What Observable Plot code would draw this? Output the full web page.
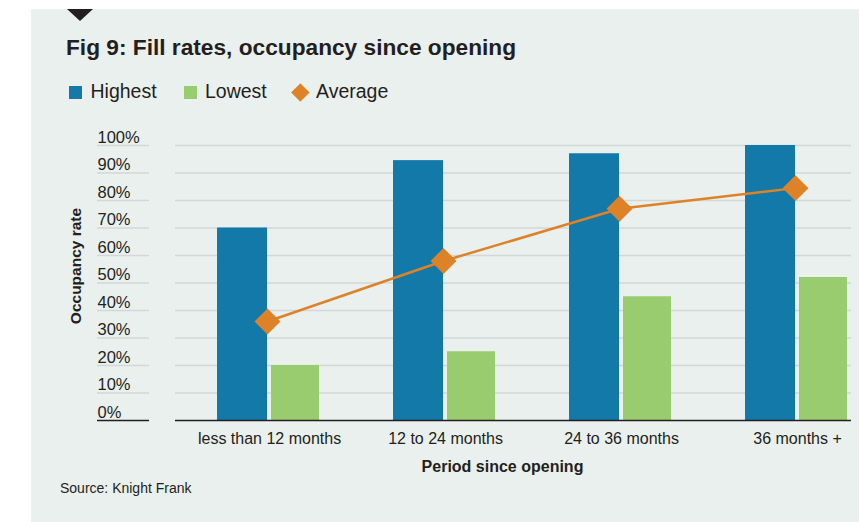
<!DOCTYPE html>
<html><head><meta charset="utf-8">
<script src="https://cdn.jsdelivr.net/npm/d3@7"></script>
<script src="https://cdn.jsdelivr.net/npm/@observablehq/plot@0.6"></script>
<style>
body{margin:0;background:#fff;width:859px;height:522px;position:relative;overflow:hidden;font-family:"Liberation Sans",Arial,sans-serif;color:#231f20;}
#panel{position:absolute;left:31px;top:9px;width:828px;height:513px;background:#eaf0ee;}
#tri{position:absolute;left:67px;top:9px;width:0;height:0;border-left:13px solid transparent;border-right:13px solid transparent;border-top:12px solid #231f20;}
.t{position:absolute;line-height:1;white-space:nowrap;}
#title{left:66px;top:36px;font-weight:bold;font-size:22.7px;}
.lg{top:81.5px;font-size:19.5px;}
.sw{position:absolute;top:86px;width:13px;height:13px;}
.dia{position:absolute;left:293.6px;top:85.6px;width:12.7px;height:12.7px;background:#dd8227;transform:rotate(45deg);}
#src{left:60px;top:481px;font-size:14px;}
#chart{position:absolute;left:0;top:110px;}
</style></head>
<body>
<div id="panel"></div>
<div id="tri"></div>
<div id="title" class="t">Fig 9: Fill rates, occupancy since opening</div>
<div class="sw" style="left:69px;background:#1379a9"></div>
<div class="t lg" style="left:90.5px">Highest</div>
<div class="sw" style="left:184px;background:#99cc6f"></div>
<div class="t lg" style="left:205px">Lowest</div>
<div class="dia"></div>
<div class="t lg" style="left:316px">Average</div>
<div id="chart"></div>
<div id="src" class="t">Source: Knight Frank</div>
<script>
const categories = ["less than 12 months", "12 to 24 months", "24 to 36 months", "36 months +"];
const highest = [0.70, 0.945, 0.97, 1.00];
const lowest = [0.20, 0.25, 0.45, 0.52];
const average = [0.36, 0.58, 0.77, 0.845];
const yTicks = [0, 0.1, 0.2, 0.3, 0.4, 0.5, 0.6, 0.7, 0.8, 0.9, 1.0];
const xTitle = "Period since opening";
const yTitle = "Occupancy rate";

const blue = "#1379a9", green = "#99cc6f", orange = "#dd8227", grid = "#d3d8d6", ink = "#231f20";
const data = categories.map((c, i) => ({cat: c, high: highest[i], low: lowest[i], avg: average[i]}));

const plot = Plot.plot({
  width: 859, height: 380,
  marginTop: 35, marginBottom: 70, marginLeft: 175, marginRight: 8,
  style: {background: "transparent", fontFamily: "Liberation Sans, Arial, sans-serif", color: ink},
  x: {type: "band", domain: categories, paddingInner: 0.409, paddingOuter: 0.125, align: 0.955, round: false},
  y: {domain: [0, 1]},
  marks: [
    Plot.ruleY(yTicks.slice(1), {stroke: grid, strokeWidth: 1.5}),
    Plot.axisY({ticks: yTicks.slice(1), fill: "none", stroke: grid, strokeWidth: 1.5, tickSize: 52, dx: -26, label: null}),
    Plot.axisY({ticks: yTicks, tickSize: 0, tickPadding: 78, textAnchor: "start", lineAnchor: "bottom", dy: -3,
      tickFormat: d3.format(".0%"), fontSize: 16.5, fill: ink, label: null}),
    Plot.barY(data, {x: "cat", y: "high", fill: blue, insetRight: 54}),
    Plot.barY(data, {x: "cat", y: "low", fill: green, insetLeft: 54, insetRight: 2}),
    Plot.ruleY([0], {stroke: ink, strokeWidth: 1.5}),
    Plot.axisY({ticks: [0], fill: "none", stroke: ink, strokeWidth: 1.5, tickSize: 52, dx: -26, label: null}),
    Plot.line(data, {x: "cat", y: "avg", stroke: orange, strokeWidth: 2.5, dx: -2}),
    Plot.dot(data, {x: "cat", y: "avg", symbol: "diamond2", r: 11.7, fill: orange, dx: -2}),
    Plot.axisX({tickSize: 0, tickPadding: 12, lineAnchor: "top", fontSize: 16, fill: ink, label: null}),
    Plot.text([xTitle], {text: d => d, frameAnchor: "bottom", dy: 51, dx: -11, lineAnchor: "bottom", fontWeight: "bold", fontSize: 16, fill: ink}),
    Plot.text([yTitle], {text: d => d, frameAnchor: "left", textAnchor: "middle", rotate: -90, dx: -95, dy: -17, lineAnchor: "bottom", fontWeight: "bold", fontSize: 15.5, fill: ink})
  ]
});
document.getElementById("chart").appendChild(plot);
</script>
</body></html>
